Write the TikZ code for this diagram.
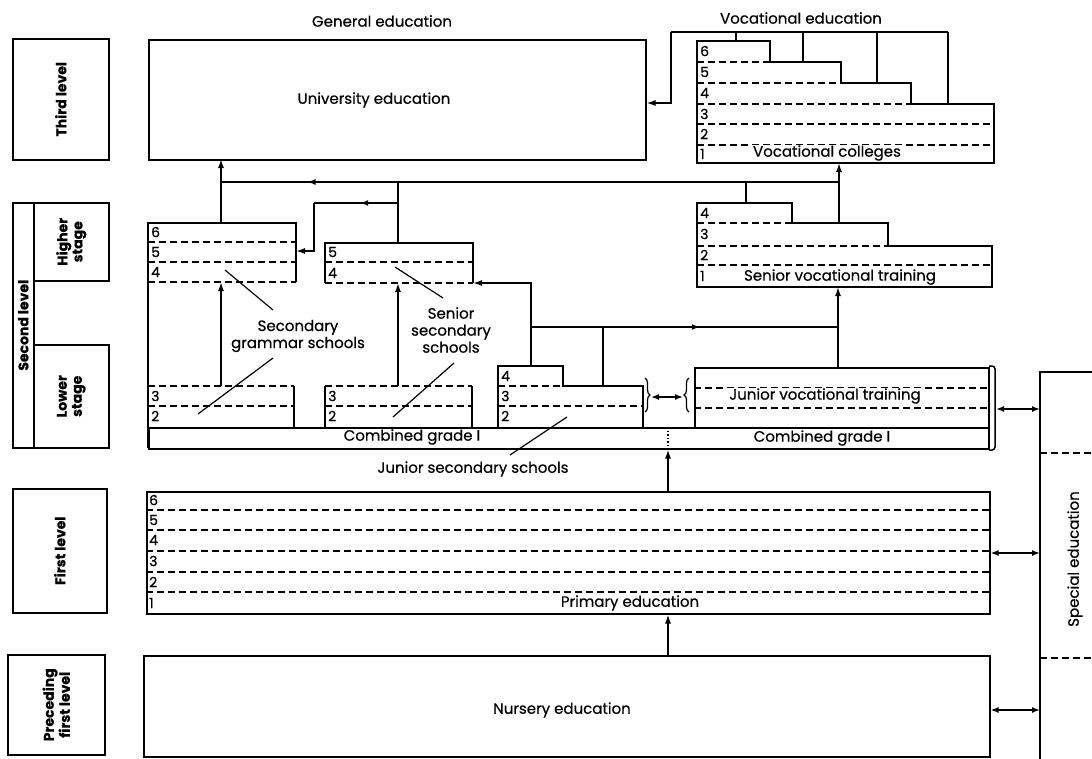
\documentclass[tikz,border=0pt]{standalone}
\usepackage{fontspec}
\setmainfont{Poppins}[FakeBold=0.5]
\usetikzlibrary{arrows.meta, decorations.markings, decorations.pathreplacing}

\begin{document}
\begin{tikzpicture}[x=1pt, y=-1pt,
    box/.style={draw, line width=1.5pt, anchor=north west, inner sep=0pt},
    edge/.style={line width=1.5pt},
    yr/.style={line width=1.4pt, dash pattern=on 7pt off 4pt},
    arrow/.style={line width=1.5pt, -{Latex[length=9pt,width=6pt]}},
    twoway/.style={line width=1.5pt, {Latex[length=8pt,width=6pt]}-{Latex[length=8pt,width=6pt]}},
    leader/.style={line width=1.2pt},
    midtip/.style={postaction={decorate}, decoration={markings, mark=at position #1 with {\arrow{Latex[length=8pt,width=6pt]}}}},
    txt/.style={font=\fontsize{15}{17}\selectfont, align=center, inner sep=1pt},
    side/.style={font=\fontsize{14}{15}\selectfont\bfseries, align=center, rotate=90},
    num/.style={font=\fontsize{14}{14}\selectfont, inner sep=0pt, anchor=west}]

    \useasboundingbox (0,0) rectangle (1092,758);

    % level column
    \node[box, minimum width=96, minimum height=121, label={[side]center:Third level}] (third) at (12,38) {};
    \node[box, minimum width=21, minimum height=245, label={[side]center:Second level}] (second) at (12,202) {};
    \node[box, minimum width=75, minimum height=78, label={[side]center:Higher\\stage}] (higher) at (33,202) {};
    \node[box, minimum width=75, minimum height=103, label={[side]center:Lower\\stage}] (lower) at (33,344) {};
    \node[box, minimum width=94, minimum height=124, label={[side]center:First level}] (first) at (12,488) {};
    \node[box, minimum width=97, minimum height=100, label={[side]center:Preceding\\first level}] (preced) at (7,654) {};

    \node[txt] (gen) at (382,21) {General education};
    \node[txt] (voc) at (801,18) {Vocational education};

    % third level
    \node[box, minimum width=497, minimum height=120] (univ) at (148,39) {};
    \node[txt] (univtxt) at (374,100) {University education};

    \draw[edge] (697,41) -- (770,41) |- (841,62) |- (911,83) |- (994,104) -- (994,163) -- (697,163) -- cycle;
    \foreach \y/\x in {62/770, 83/841, 104/911, 124/994, 145/994}
        \draw[yr] (697,\y) -- (\x,\y);
    \foreach \n/\y in {6/51, 5/72, 4/93, 3/114, 2/134, 1/154}
        \node[num] at (700,\y) {\n};
    \node[txt, fill=white, inner ysep=0pt, inner xsep=3pt] (colltxt) at (827,153) {Vocational colleges};

    \coordinate (vtop) at (671,32);
    \draw[edge] (vtop) -- (948,32);
    \foreach \x/\y in {736/41, 803/62, 877/83, 948/104}
        \draw[edge] (\x,32) -- (\x,\y);
    \draw[arrow] (vtop) -- (671,103) -- (univ.east |- 0,103);

    % second level, links upwards
    \coordinate (gj) at (221,182);
    \coordinate (sj) at (398,182);
    \coordinate (vj) at (839,182);
    \draw[edge, midtip=0.86] (vj) -- (gj);
    \draw[arrow] (gj) -- (221,159);
    \draw[arrow] (839,223) -- (839,163);
    \draw[edge] (746,182) -- (746,203);
    \draw[edge] (gj) -- (221,223);
    \draw[edge] (sj) -- (398,243);
    \draw[edge, midtip=0.45] (398,203) -- (314,203);
    \draw[arrow] (314,203) -- (314,251) -- (296,251);

    % secondary grammar schools
    \draw[edge] (148,448) -- (148,223) -- (296,223) -- (296,282);
    \foreach \y in {242,262,282}
        \draw[yr] (148,\y) -- (296,\y);
    \foreach \y in {386,406}
        \draw[yr] (148,\y) -- (294,\y);
    \draw[edge] (294,386) -- (294,427);
    \foreach \n/\y in {6/232, 5/252, 4/272, 3/396, 2/416}
        \node[num] at (151,\y) {\n};
    \draw[arrow] (221,386) -- (221,282);

    % senior secondary schools
    \draw[edge] (325,283) -- (325,243) -- (473,243) -- (473,283);
    \foreach \y in {262,283}
        \draw[yr] (325,\y) -- (473,\y);
    \draw[edge] (325,427) -- (325,386);
    \draw[edge] (472,386) -- (472,427);
    \foreach \y in {386,406}
        \draw[yr] (325,\y) -- (472,\y);
    \foreach \n/\y in {5/252, 4/273, 3/396, 2/416}
        \node[num] at (328,\y) {\n};
    \draw[arrow] (398,386) -- (398,283);

    % junior secondary schools
    \draw[edge] (498,427) -- (498,366) -- (563,366) |- (643,386) -- (643,427);
    \draw[yr] (498,386) -- (563,386);
    \draw[yr] (498,406) -- (643,406);
    \foreach \n/\y in {4/376, 3/396, 2/416}
        \node[num] at (501,\y) {\n};
    \coordinate (jj) at (531,327);
    \draw[arrow] (531,366) -- (531,283) -- (473,283);
    \draw[edge, midtip=0.55] (jj) -- (838,327);
    \draw[edge] (603,327) -- (603,386);
    \draw[arrow] (838,367) -- (838,287);

    % senior vocational training
    \draw[edge] (697,203) -- (792,203) |- (888,223) |- (992,246) -- (992,287) -- (697,287) -- cycle;
    \draw[yr] (697,223) -- (792,223);
    \draw[yr] (697,246) -- (888,246);
    \draw[yr] (697,265) -- (992,265);
    \foreach \n/\y in {4/213, 3/234, 2/255, 1/276}
        \node[num] at (700,\y) {\n};
    \node[txt] (svtxt) at (840,277) {Senior vocational training};

    % junior vocational training
    \node[box, minimum width=294, minimum height=60] (jvoc) at (694,367) {};
    \draw[yr] (694,388) -- (988,388);
    \draw[yr] (694,408) -- (988,408);
    \node[txt, fill=white, inner ysep=0pt, inner xsep=3pt] (jvtxt) at (825,396) {Junior vocational training};

    \draw[decorate, decoration={brace, amplitude=5pt}, line width=1.2pt] (645,378) -- (645,412);
    \draw[decorate, decoration={brace, amplitude=5pt}, line width=1.2pt] (689,412) -- (689,378);
    \draw[twoway] (651,397) -- (683,397);

    % combined grade I
    \node[box, minimum width=840, minimum height=21] (bar) at (148,427) {};
    \draw[line width=1.5pt, dotted] (668,427) -- (668,448);
    \node[txt] (cg1) at (412,437) {Combined grade I};
    \node[txt] (cg2) at (822,438) {Combined grade I};
    \draw[edge, rounded corners=3pt] (989,366) -- (995,366) -- (995,450) -- (989,450);

    \draw[leader] (225,270) -- (273,310);
    \draw[leader] (273,358) -- (198,414);
    \node[txt] (gram) at (298,336) {Secondary\\grammar schools};
    \draw[leader] (395,267) -- (443,298);
    \draw[leader] (454,363) -- (393,417);
    \node[txt] (sen) at (451,330) {Senior\\secondary\\schools};
    \draw[leader] (567,417) -- (510,455);
    \node[txt] (jun) at (473,469) {Junior secondary schools};

    % first level and nursery
    \node[box, minimum width=843, minimum height=122] (prim) at (146,491) {};
    \foreach \y in {510,530,551,572,592}
        \draw[yr] (146,\y) -- (989,\y);
    \foreach \n/\y in {6/500, 5/520, 4/540, 3/561, 2/582, 1/603}
        \node[num] at (149,\y) {\n};
    \node[txt] (primtxt) at (630,603) {Primary education};

    \node[box, minimum width=846, minimum height=101] (nurs) at (143,655) {};
    \node[txt] (nurstxt) at (562,710) {Nursery education};

    \draw[arrow] (nurs.north -| 668,0) -- (prim.south -| 668,0);
    \draw[arrow] (prim.north -| 668,0) -- (bar.south -| 668,0);

    % special education
    \draw[edge] (1096,372) -- (1040,372) -- (1040,760);
    \draw[yr] (1040,453) -- (1092,453);
    \draw[yr] (1040,658) -- (1092,658);
    \node[txt, rotate=90] (spec) at (1075,559) {Special education};
    \draw[twoway] (996,409) -- (1040,409);
    \draw[twoway] (prim.east |- 0,553) -- (1040,553);
    \draw[twoway] (nurs.east |- 0,710) -- (1040,710);
\end{tikzpicture}
\end{document}
